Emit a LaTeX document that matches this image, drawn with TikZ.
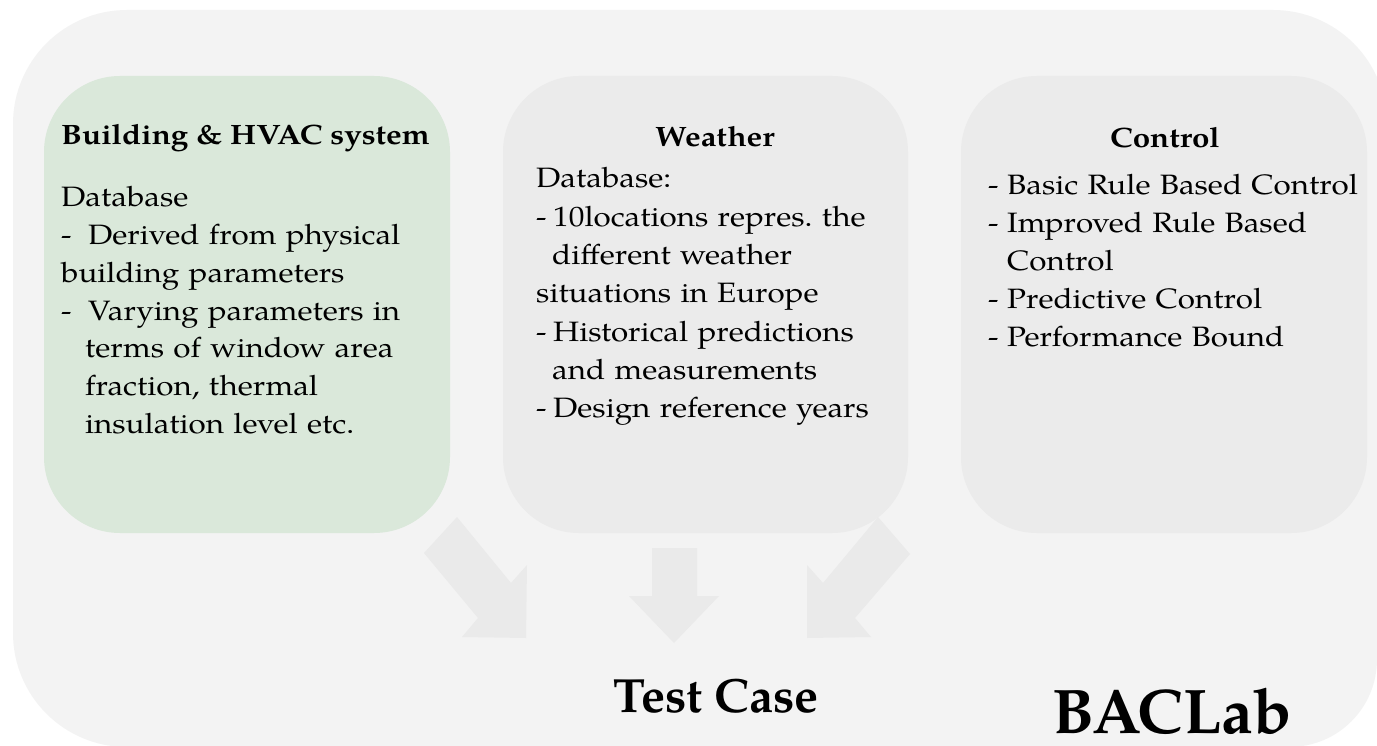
\documentclass[tikz,border=0pt]{standalone}
\usepackage{fontspec}
\setmainfont{texgyrepagella}[Extension=.otf, UprightFont=*-regular, BoldFont=*-bold, ItalicFont=*-italic, BoldItalicFont=*-bolditalic, FakeStretch=1.12]
\newfontfamily\labelfont{texgyrepagella}[Extension=.otf, UprightFont=*-regular, BoldFont=*-bold, ItalicFont=*-italic, BoldItalicFont=*-bolditalic]
\frenchspacing
\definecolor{bgc}{RGB}{243,243,243}
\definecolor{boxc}{RGB}{235,235,235}
\definecolor{greenc}{RGB}{218,232,218}
\definecolor{arrc}{RGB}{234,234,234}
\tikzset{
  panel/.style={rounded corners=76pt},
  body/.style={anchor=base west, inner sep=0pt, align=left, text width=420pt, font=\fontsize{28}{38}\selectfont},
  title/.style={anchor=base, inner sep=0pt, font=\fontsize{28}{34}\selectfont\bfseries},
  biglabel/.style={anchor=base, inner sep=0pt, text depth=0pt},
  blockarrow/.style={fill=arrc}
}
\begin{document}
\begin{tikzpicture}[x=1pt,y=-1pt]
\useasboundingbox (0,0) rectangle (1377,746);
\clip (0,0) rectangle (1377,746);
\fill[white] (0,0) rectangle (1377,746);
% outer background panel
\fill[bgc] (127,10) -- (1273,10) .. controls (1336,10) and (1387,61) .. (1387,124)
  -- (1377,659) .. controls (1377,708) and (1338,747) .. (1289,747)
  -- (127,747) .. controls (64,747) and (13,696) .. (13,633)
  -- (13,124) .. controls (13,61) and (64,10) .. (127,10) -- cycle;
% panels
\fill[greenc, panel] (44,76) rectangle (450,533);
\fill[boxc, panel] (503,76) rectangle (908,533);
\fill[boxc, panel] (961,76) rectangle (1367,533);
% block arrows
\fill[blockarrow] (424,553) -- (457,517) -- (511,583) -- (527,565) -- (526,638) -- (462,637) -- (478,618) -- cycle;
\fill[blockarrow] (652,548) -- (697,548) -- (697,596) -- (719,596) -- (674,643) -- (629,596) -- (652,596) -- cycle;
\fill[blockarrow] (878,517) -- (910,554) -- (855,618) -- (871,637) -- (807,638) -- (807,565) -- (823,583) -- cycle;
% building panel
\node[anchor=base west, inner sep=0pt, font=\fontsize{28}{34}\selectfont\bfseries] (bt) at (61,145) {Building \& HVAC system};
\node[body, font=\fontsize{28}{37.7}\selectfont] (bb) at (61,207) {Database\\
\makebox[27pt][l]{-}Derived from physical\\
building parameters\\
\makebox[27pt][l]{-}Varying parameters in\\
\hspace*{24pt}terms of window area\\
\hspace*{24pt}fraction, thermal\\
\hspace*{24pt}insulation level etc.};
% weather panel
\node[title] (wt) at (715,147) {Weather};
\node[body, font=\fontsize{28}{38.3}\selectfont] (wb) at (536,188) {Database:\\
\makebox[17pt][l]{-}10locations repres. the\\
\hspace*{16pt}different weather\\
situations in Europe\\
\makebox[17pt][l]{-}Historical predictions\\
\hspace*{16pt}and measurements\\
\makebox[17pt][l]{-}Design reference years};
% control panel
\node[title] (ct) at (1165,148) {Control};
\node[body, font=\fontsize{28}{38}\selectfont] (cb) at (988,195) {\makebox[19pt][l]{-}Basic Rule Based Control\\
\makebox[19pt][l]{-}Improved Rule Based\\
\hspace*{19pt}Control\\
\makebox[19pt][l]{-}Predictive Control\\
\makebox[19pt][l]{-}Performance Bound};
% bottom labels
\node[biglabel, font=\labelfont\fontsize{48}{56}\selectfont\bfseries] (tc) at (716,712) {Test Case};
\node[biglabel, font=\labelfont\fontsize{63}{72}\selectfont\bfseries] (bac) at (1172,733) {BACLab};
\end{tikzpicture}
\end{document}
